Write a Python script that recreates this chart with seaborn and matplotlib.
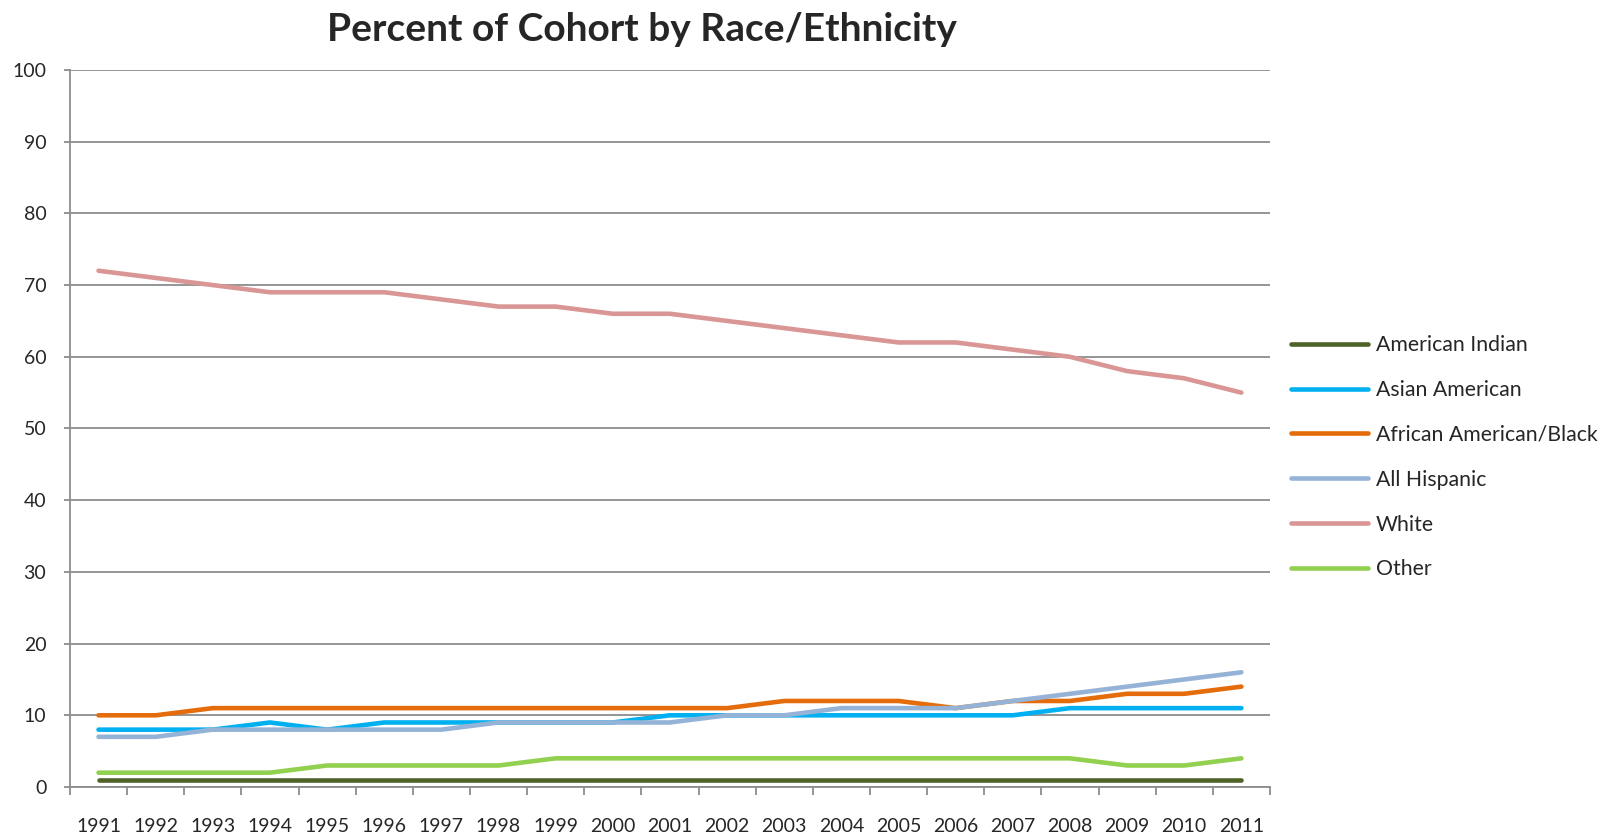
import matplotlib.pyplot as plt
import seaborn as sns
import pandas as pd

# values (percent of cohort)
years = list(range(1991, 2012))
american_indian = [1] * 21
asian_american = [8, 8, 8, 9, 8, 9, 9, 9, 9, 9, 10, 10, 10, 10, 10, 10, 10, 11, 11, 11, 11]
african_american = [10, 10, 11, 11, 11, 11, 11, 11, 11, 11, 11, 11, 12, 12, 12, 11, 12, 12, 13, 13, 14]
all_hispanic = [7, 7, 8, 8, 8, 8, 8, 9, 9, 9, 9, 10, 10, 11, 11, 11, 12, 13, 14, 15, 16]
white = [72, 71, 70, 69, 69, 69, 68, 67, 67, 66, 66, 65, 64, 63, 62, 62, 61, 60, 58, 57, 55]
other = [2, 2, 2, 2, 3, 3, 3, 3, 4, 4, 4, 4, 4, 4, 4, 4, 4, 4, 3, 3, 4]

groups = ["American Indian", "Asian American", "African American/Black",
          "All Hispanic", "White", "Other"]
colors = ["#4F6228", "#00B0F0", "#E46C0A", "#95B3D7", "#D99694", "#92D050"]

series = [american_indian, asian_american, african_american, all_hispanic, white, other]
rows = []
for name, vals in zip(groups, series):
    for i, (yr, v) in enumerate(zip(years, vals)):
        rows.append({"pos": i, "year": yr, "group": name, "pct": v})
df = pd.DataFrame(rows)

sns.set_style("white")
plt.rcParams["font.family"] = ["Lato", "DejaVu Sans"]

fig = plt.figure(figsize=(16.19, 8.36), dpi=100)
ax = fig.add_axes([0.0432, 0.0586, 0.7412, 0.8577])

sns.lineplot(data=df, x="pos", y="pct", hue="group", hue_order=groups,
             palette=colors, linewidth=3.3, ax=ax)

grid_color = "#8c8c8c"
ax.set_ylim(0, 100)
ax.set_xlim(-0.5, len(years) - 0.5)
ax.set_yticks(range(0, 101, 10))
ax.yaxis.grid(True, color=grid_color, linewidth=1.3)
ax.set_axisbelow(True)
ax.set_xticks(range(len(years)))
ax.set_xticklabels([str(y) for y in years])
ax.set_xticks([i - 0.5 for i in range(len(years) + 1)], minor=True)
ax.tick_params(axis="x", which="major", length=0, pad=22, labelsize=14)
ax.tick_params(axis="x", which="minor", length=6, width=1.3, color=grid_color, direction="out")
ax.tick_params(axis="y", length=4, width=1.3, color=grid_color, direction="out", pad=13, labelsize=14)
ax.tick_params(bottom=True, left=True, which="both")
for side in ["top", "right"]:
    ax.spines[side].set_visible(False)
for side in ["left", "bottom"]:
    ax.spines[side].set_color(grid_color)
    ax.spines[side].set_linewidth(1.3)
ax.set_xlabel("")
ax.set_ylabel("")

handles, labels = ax.get_legend_handles_labels()
ax.legend_.remove()
fig.legend(handles, labels, loc="center left", bbox_to_anchor=(1291 / 1619, 0.453),
           bbox_transform=fig.transFigure, frameon=False, fontsize=15.3,
           handlelength=3.6, handletextpad=0.4, labelspacing=1.17, borderpad=0,
           borderaxespad=0)

fig.text(642 / 1619, 0.965, "Percent of Cohort by Race/Ethnicity", ha="center",
         va="center", fontsize=28, fontweight="bold")

fig.savefig("out.png", dpi=100)
